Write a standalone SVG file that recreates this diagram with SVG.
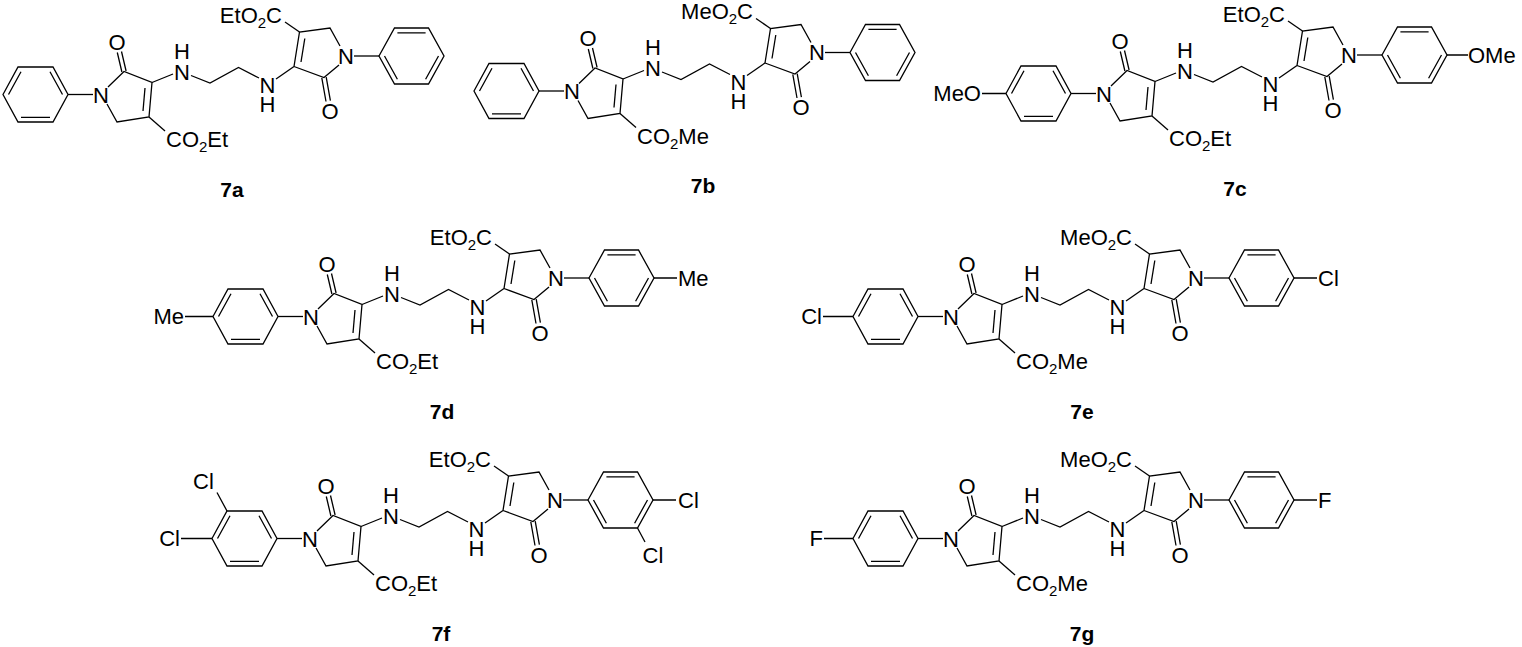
<svg xmlns="http://www.w3.org/2000/svg" xmlns:xlink="http://www.w3.org/1999/xlink" width="1522" height="647" viewBox="0 0 1522 647">
<style>
.b{stroke:#000;stroke-width:1.3;fill:none;stroke-linejoin:miter}
text{font-family:"Liberation Sans",Arial,Helvetica,sans-serif;font-size:22px;fill:#000}
.m{text-anchor:middle}
.e{text-anchor:end}
.s{font-size:15px}
.lbl{font-weight:bold;font-size:21px;text-anchor:middle}
</style>
<defs>
<g id="core" class="b">
<polygon points="3,94.5 18,67 53,67 68,94.5 53,122 18,122"/>
<path d="M8.5,94.5L21,71.7M50,71.7L62.5,94.5M50,117.3L21,117.3"/>
<path d="M68,94.5L93,94.5"/>
<path d="M108,87L124,71.5L152,82.5L149,117L117,122L107,104"/>
<path d="M145,88L143,111"/>
<path d="M126.1,71L121.5,51.5M121.9,72L117.3,52.5"/>
<path d="M149,117L165,131"/>
<path d="M152,82.5L173,74"/>
<path d="M191,75.5L210,83L238.5,67.5L259,78"/>
<path d="M276,79L294,66.5"/>
<path d="M294,66.5L299.5,32L330,28L340,46M339,65L324,77.5L294,66.5"/>
<path d="M301,62L304.8,38.5"/>
<path d="M326.2,77.1L330.4,100.7M321.8,77.9L326,101.5"/>
<path d="M299.5,32L285,22"/>
<path d="M354,56L379,56"/>
<polygon points="379,56 394.5,28 428.5,28 444,56 428.5,84 394.5,84"/>
<path d="M397.4,32.8L425.6,32.8M438.5,56L425.6,79.2M397.4,79.2L384.5,56"/>
</g>
</defs>

<g id="cmpd-7a" transform="translate(0,0)">
<use xlink:href="#core" href="#core"/>
<text class="m" x="101" y="102.6">N</text>
<text class="m" x="117" y="49.6">O</text>
<text class="m"><tspan x="182" y="58.6">H</tspan><tspan x="182" y="79.6">N</tspan></text>
<text class="m"><tspan x="267.5" y="93.1">N</tspan><tspan x="267.5" y="112.1">H</tspan></text>
<text class="m" x="330" y="118.6">O</text>
<text class="m" x="346" y="63.6">N</text>
<text x="166" y="147">CO<tspan class="s" dy="5">2</tspan><tspan dy="-5">Et</tspan></text>
<text class="e" x="282" y="22.6">EtO<tspan class="s" dy="5">2</tspan><tspan dy="-5">C</tspan></text>
<text class="lbl" x="232" y="196.5">7a</text>
</g>

<g id="cmpd-7b" transform="translate(471,-3.5)">
<use xlink:href="#core" href="#core"/>
<text class="m" x="101" y="102.6">N</text>
<text class="m" x="117" y="49.6">O</text>
<text class="m"><tspan x="182" y="58.6">H</tspan><tspan x="182" y="79.6">N</tspan></text>
<text class="m"><tspan x="267.5" y="93.1">N</tspan><tspan x="267.5" y="112.1">H</tspan></text>
<text class="m" x="330" y="118.6">O</text>
<text class="m" x="346" y="63.6">N</text>
<text x="166" y="147">CO<tspan class="s" dy="5">2</tspan><tspan dy="-5">Me</tspan></text>
<text class="e" x="282" y="22.6">MeO<tspan class="s" dy="5">2</tspan><tspan dy="-5">C</tspan></text>
<text class="lbl" x="232" y="196.5">7b</text>
</g>

<g id="cmpd-7c" transform="translate(1003,-1)">
<use xlink:href="#core" href="#core"/>
<path class="b" d="M-21,94.5L3,94.5M444,56L465,56"/>
<text class="e" x="-22" y="102.1">MeO</text>
<text x="465" y="63.6">OMe</text>
<text class="m" x="101" y="102.6">N</text>
<text class="m" x="117" y="49.6">O</text>
<text class="m"><tspan x="182" y="58.6">H</tspan><tspan x="182" y="79.6">N</tspan></text>
<text class="m"><tspan x="267.5" y="93.1">N</tspan><tspan x="267.5" y="112.1">H</tspan></text>
<text class="m" x="330" y="118.6">O</text>
<text class="m" x="346" y="63.6">N</text>
<text x="166" y="147">CO<tspan class="s" dy="5">2</tspan><tspan dy="-5">Et</tspan></text>
<text class="e" x="282" y="22.6">EtO<tspan class="s" dy="5">2</tspan><tspan dy="-5">C</tspan></text>
<text class="lbl" x="232" y="196.5">7c</text>
</g>

<g id="cmpd-7d" transform="translate(210,222)">
<use xlink:href="#core" href="#core"/>
<path class="b" d="M-25,94.5L3,94.5M444,56L467,56"/>
<text class="e" x="-26" y="102.1">Me</text>
<text x="468" y="63.6">Me</text>
<text class="m" x="101" y="102.6">N</text>
<text class="m" x="117" y="49.6">O</text>
<text class="m"><tspan x="182" y="58.6">H</tspan><tspan x="182" y="79.6">N</tspan></text>
<text class="m"><tspan x="267.5" y="93.1">N</tspan><tspan x="267.5" y="112.1">H</tspan></text>
<text class="m" x="330" y="118.6">O</text>
<text class="m" x="346" y="63.6">N</text>
<text x="166" y="147">CO<tspan class="s" dy="5">2</tspan><tspan dy="-5">Et</tspan></text>
<text class="e" x="282" y="22.6">EtO<tspan class="s" dy="5">2</tspan><tspan dy="-5">C</tspan></text>
<text class="lbl" x="232" y="196.5">7d</text>
</g>

<g id="cmpd-7e" transform="translate(850,222)">
<use xlink:href="#core" href="#core"/>
<path class="b" d="M-27,94.5L3,94.5M444,56L467,56"/>
<text class="e" x="-28" y="102.1">Cl</text>
<text x="468" y="63.6">Cl</text>
<text class="m" x="101" y="102.6">N</text>
<text class="m" x="117" y="49.6">O</text>
<text class="m"><tspan x="182" y="58.6">H</tspan><tspan x="182" y="79.6">N</tspan></text>
<text class="m"><tspan x="267.5" y="93.1">N</tspan><tspan x="267.5" y="112.1">H</tspan></text>
<text class="m" x="330" y="118.6">O</text>
<text class="m" x="346" y="63.6">N</text>
<text x="166" y="147">CO<tspan class="s" dy="5">2</tspan><tspan dy="-5">Me</tspan></text>
<text class="e" x="282" y="22.6">MeO<tspan class="s" dy="5">2</tspan><tspan dy="-5">C</tspan></text>
<text class="lbl" x="232" y="196.5">7e</text>
</g>

<g id="cmpd-7f" transform="translate(209,444)">
<use xlink:href="#core" href="#core"/>
<path class="b" d="M-28,94.5L3,94.5M18,67L8,48.5M444,56L467,56M428.5,84L436,98"/>
<text class="e" x="-29" y="102.1">Cl</text>
<text class="m" x="-5.5" y="45.3">Cl</text>
<text x="469" y="63.6">Cl</text>
<text class="m" x="444" y="118.6">Cl</text>
<text class="m" x="101" y="102.6">N</text>
<text class="m" x="117" y="49.6">O</text>
<text class="m"><tspan x="182" y="58.6">H</tspan><tspan x="182" y="79.6">N</tspan></text>
<text class="m"><tspan x="267.5" y="93.1">N</tspan><tspan x="267.5" y="112.1">H</tspan></text>
<text class="m" x="330" y="118.6">O</text>
<text class="m" x="346" y="63.6">N</text>
<text x="166" y="147">CO<tspan class="s" dy="5">2</tspan><tspan dy="-5">Et</tspan></text>
<text class="e" x="282" y="22.6">EtO<tspan class="s" dy="5">2</tspan><tspan dy="-5">C</tspan></text>
<text class="lbl" x="232" y="196.5">7f</text>
</g>

<g id="cmpd-7g" transform="translate(850,444)">
<use xlink:href="#core" href="#core"/>
<path class="b" d="M-26,94.5L3,94.5M444,56L467,56"/>
<text class="e" x="-27" y="102.1">F</text>
<text x="468" y="63.6">F</text>
<text class="m" x="101" y="102.6">N</text>
<text class="m" x="117" y="49.6">O</text>
<text class="m"><tspan x="182" y="58.6">H</tspan><tspan x="182" y="79.6">N</tspan></text>
<text class="m"><tspan x="267.5" y="93.1">N</tspan><tspan x="267.5" y="112.1">H</tspan></text>
<text class="m" x="330" y="118.6">O</text>
<text class="m" x="346" y="63.6">N</text>
<text x="166" y="147">CO<tspan class="s" dy="5">2</tspan><tspan dy="-5">Me</tspan></text>
<text class="e" x="282" y="22.6">MeO<tspan class="s" dy="5">2</tspan><tspan dy="-5">C</tspan></text>
<text class="lbl" x="232" y="196.5">7g</text>
</g>
</svg>
